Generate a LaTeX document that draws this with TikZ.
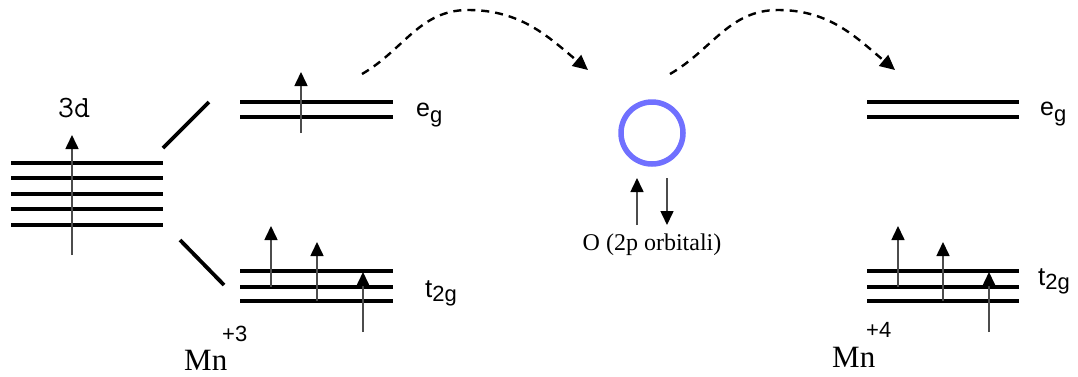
\documentclass[tikz,border=0pt]{standalone}
\usepackage{fontspec}
\setmainfont{Liberation Serif}
\setsansfont{Liberation Sans}
\usetikzlibrary{arrows.meta,positioning}

\definecolor{orbblue}{RGB}{112,112,255}

\tikzset{
  level/.style={line width=3.8pt},
  spin/.style={line width=1.6pt, black!70, -{Triangle[length=14pt,width=13pt,color=black]}},
  hop/.style={line width=2.4pt, dash pattern=on 8pt off 6pt, -{Triangle[length=15pt,width=14pt]}},
  lbl/.style={inner sep=0pt, anchor=base west},
}

\newcommand{\egtxt}{\sffamily\fontsize{25}{25}\selectfont e\raisebox{-6pt}{\fontsize{22}{22}\selectfont g}}
\newcommand{\ttgtxt}{\sffamily\fontsize{26}{26}\selectfont t\raisebox{-4pt}{\fontsize{22}{22}\selectfont 2g}}

\begin{document}
\begin{tikzpicture}[x=1pt,y=-1pt]
    \useasboundingbox (0,0) rectangle (1078,376);
    % free ion 3d
    \foreach \y in {163,178,194,209,225} \draw[level] (11,\y) -- (163,\y);
    \draw[spin] (72,255) -- (72,135);
    \node[lbl, anchor=base] (d3) at (74,117) {\ttfamily\fontsize{31}{31}\selectfont 3d};
    % splitting
    \coordinate (dA) at (163,148);
    \coordinate (egA) at (209,102);
    \coordinate (dB) at (180,240);
    \coordinate (tgA) at (224,285);
    \draw[level] (dA) -- (egA);
    \draw[level] (dB) -- (tgA);
    % Mn+3
    \foreach \y in {102,117} \draw[level] (240,\y) -- (393,\y);
    \foreach \y in {271,287,301} \draw[level] (240,\y) -- (393,\y);
    \foreach \x/\a/\b in {301/133/72, 271/287/226, 317/301/242, 363/332/272}
        \draw[spin] (\x,\a) -- (\x,\b);
    \node[lbl] (egL) at (416,116) {\egtxt};
    \node[lbl] (tgL) at (425,297) {\ttgtxt};
    \node[lbl] (mnA) at (184,370) {\fontsize{31}{31}\selectfont Mn};
    \node[lbl] (chA) at (222,341) {\sffamily\fontsize{22}{22}\selectfont +3};
    % oxygen
    \node[circle, draw=orbblue, line width=5.5pt, minimum size=62pt, inner sep=0pt] (ox) at (652,133) {};
    \draw[spin] (637,225) -- (637,178);
    \draw[spin] (667,178) -- (667,225);
    \node (oxl) at (652,245) {\fontsize{24}{24}\selectfont O (2p orbitali)};
    % Mn+4
    \foreach \y in {102,117} \draw[level] (867,\y) -- (1019,\y);
    \foreach \y in {271,287,301} \draw[level] (867,\y) -- (1019,\y);
    \foreach \x/\a/\b in {898/287/226, 943/301/242, 989/332/272}
        \draw[spin] (\x,\a) -- (\x,\b);
    \node[lbl] (egR) at (1040,115) {\egtxt};
    \node[lbl] (tgR) at (1038,285) {\ttgtxt};
    \node[lbl] (mnB) at (832,367) {\fontsize{31}{31}\selectfont Mn};
    \node[lbl] (chB) at (866,337) {\sffamily\fontsize{22}{22}\selectfont +4};
    % electron hopping
    \coordinate (hopA) at (362,74);
    \coordinate (topA) at (468,10);
    \coordinate (hopB) at (588,70);
    \coordinate (hopC) at (670,74);
    \coordinate (topC) at (778,10);
    \coordinate (hopD) at (895,70);
    \draw[hop] (hopA) to[out=30,in=180] (topA) to[out=0,in=140] (hopB);
    \draw[hop] (hopC) to[out=30,in=180] (topC) to[out=0,in=140] (hopD);
\end{tikzpicture}
\end{document}
